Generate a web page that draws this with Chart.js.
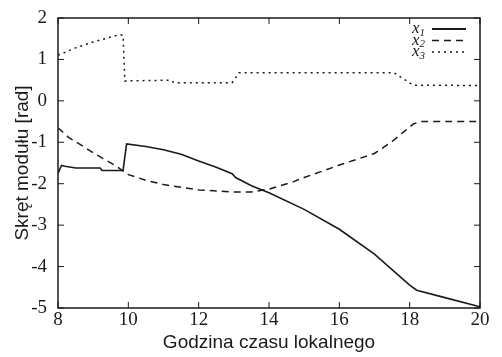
<!DOCTYPE html>
<html>
<head>
<meta charset="utf-8">
<script src="https://cdn.jsdelivr.net/npm/chart.js@4"></script>
<style>
  html, body { margin: 0; padding: 0; background: #fff; }
  #wrap { width: 502px; height: 357px; }
</style>
</head>
<body>
<div id="wrap"><canvas id="chart" width="502" height="357"></canvas></div>
<script>
// hours of the day and values
const x1Hours = [8, 8.1, 8.2, 8.5, 9.2, 9.25, 9.85, 9.95, 10.5, 11, 11.5, 12, 12.5, 12.95, 13.05, 13.5, 14, 15, 16, 17, 18, 18.2, 19, 20];
const x1Vals  = [-1.75, -1.56, -1.58, -1.62, -1.62, -1.68, -1.68, -1.04, -1.1, -1.18, -1.29, -1.45, -1.6, -1.76, -1.85, -2.05, -2.22, -2.62, -3.1, -3.7, -4.45, -4.57, -4.75, -4.97];

const x2Hours = [8, 8.3, 9, 9.7, 10, 10.5, 11, 12, 13, 13.5, 14, 14.7, 15, 16, 17, 17.5, 18.1, 18.3, 20];
const x2Vals  = [-0.65, -0.88, -1.25, -1.6, -1.78, -1.92, -2.02, -2.15, -2.2, -2.2, -2.13, -1.95, -1.85, -1.55, -1.27, -0.98, -0.56, -0.5, -0.5];

const x3Hours = [8, 8.5, 9, 9.75, 9.85, 9.9, 11.2, 11.3, 12.95, 13.15, 17.55, 18.1, 20];
const x3Vals  = [1.1, 1.28, 1.42, 1.6, 1.58, 0.48, 0.5, 0.44, 0.44, 0.68, 0.68, 0.38, 0.37];

const seriesNames = ['x1', 'x2', 'x3'];
const xTicks = [8, 10, 12, 14, 16, 18, 20];
const yTicks = [-5, -4, -3, -2, -1, 0, 1, 2];

function toPoints(xs, ys) {
  return xs.map((x, i) => ({ x: x, y: ys[i] }));
}

const ink = '#1a1a1a';
const serif = "'Liberation Serif', 'DejaVu Serif', serif";
const sans = "'Liberation Sans', Arial, sans-serif";

// frame, inward ticks on all four sides, and the gnuplot-like legend
const framePlugin = {
  id: 'frame',
  afterDatasetsDraw(chart) {
    const ctx = chart.ctx;
    const a = chart.chartArea;
    const xs = chart.scales.x, ys = chart.scales.y;
    ctx.save();
    ctx.strokeStyle = ink;
    ctx.lineWidth = 1.5;
    ctx.strokeRect(a.left, a.top, a.right - a.left, a.bottom - a.top);
    ctx.lineWidth = 1;
    const len = 6;
    ctx.beginPath();
    xTicks.forEach(v => {
      const px = xs.getPixelForValue(v);
      ctx.moveTo(px, a.bottom); ctx.lineTo(px, a.bottom - len);
      ctx.moveTo(px, a.top); ctx.lineTo(px, a.top + len);
    });
    yTicks.forEach(v => {
      const py = ys.getPixelForValue(v);
      ctx.moveTo(a.left, py); ctx.lineTo(a.left + len, py);
      ctx.moveTo(a.right, py); ctx.lineTo(a.right - len, py);
    });
    ctx.stroke();

    // legend
    const dashes = [[], [7, 5], [2, 4]];
    const textRight = 425, lineL = 432, lineR = 466;
    seriesNames.forEach((name, i) => {
      const y = 29 + i * 11.5;
      ctx.fillStyle = ink;
      ctx.textBaseline = 'middle';
      ctx.textAlign = 'left';
      ctx.font = 'italic 11px ' + serif;
      const subW = ctx.measureText(name.slice(1)).width;
      ctx.font = 'italic 17px ' + serif;
      const xW = ctx.measureText('x').width;
      const startX = textRight - subW - xW;
      ctx.fillText('x', startX, y);
      ctx.font = 'italic 11px ' + serif;
      ctx.fillText(name.slice(1), startX + xW, y + 4);
      ctx.setLineDash(dashes[i]);
      ctx.lineWidth = i === 0 ? 2 : 1.5;
      ctx.beginPath();
      ctx.moveTo(lineL, y); ctx.lineTo(lineR, y);
      ctx.stroke();
    });
    ctx.restore();
  }
};

const ctx = document.getElementById('chart');
new Chart(ctx, {
  type: 'scatter',
  data: {
    datasets: [
      { label: seriesNames[0], data: toPoints(x1Hours, x1Vals), showLine: true, borderColor: ink, borderWidth: 1.6, pointRadius: 0, borderDash: [] },
      { label: seriesNames[1], data: toPoints(x2Hours, x2Vals), showLine: true, borderColor: ink, borderWidth: 1.5, pointRadius: 0, borderDash: [7, 5] },
      { label: seriesNames[2], data: toPoints(x3Hours, x3Vals), showLine: true, borderColor: ink, borderWidth: 1.5, pointRadius: 0, borderDash: [2, 4] }
    ]
  },
  options: {
    responsive: false,
    animation: false,
    layout: { padding: { left: 0, right: 22, top: 18, bottom: 0 } },
    plugins: { legend: { display: false }, tooltip: { enabled: false } },
    scales: {
      x: {
        type: 'linear',
        min: 8, max: 20,
        afterBuildTicks: s => { s.ticks = xTicks.map(v => ({ value: v })); },
        afterFit: s => { s.height = 49; },
        grid: { display: false, drawTicks: false, tickLength: 0 },
        border: { display: false },
        ticks: { color: ink, padding: 1, font: { family: serif, size: 19 } },
        title: { display: true, text: 'Godzina czasu lokalnego', color: ink, padding: { top: 0, bottom: 3 }, font: { family: sans, size: 19 } }
      },
      y: {
        type: 'linear',
        min: -5, max: 2,
        afterBuildTicks: s => { s.ticks = yTicks.map(v => ({ value: v })); },
        afterFit: s => { s.width = 58; },
        grid: { display: false },
        border: { display: false },
        ticks: { color: ink, padding: 3, font: { family: serif, size: 19 } },
        title: { display: true, text: 'Skręt modułu [rad]', color: ink, padding: { top: 11, bottom: 0 }, font: { family: sans, size: 19 } }
      }
    }
  },
  plugins: [framePlugin]
});
</script>
</body>
</html>
